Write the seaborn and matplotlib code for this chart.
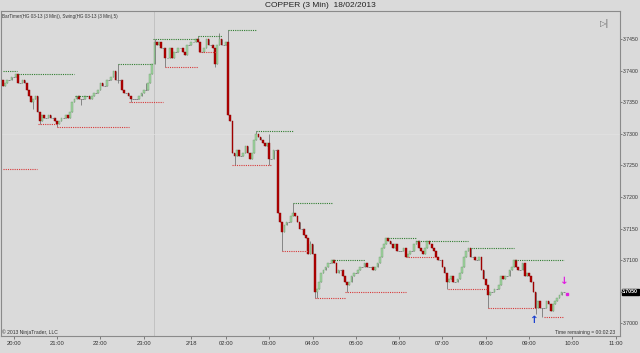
import pandas as pd
import seaborn as sns
import matplotlib.pyplot as plt

# 3-minute copper bars, closes (open = previous close)
first_open = 3.7385
closes = [
    3.7375, 3.7380, 3.7385, 3.7385, 3.7390, 3.7390, 3.7395, 3.7380, 3.7380, 3.7385,
    3.7380, 3.7370, 3.7360, 3.7350, 3.7355, 3.7360, 3.7335, 3.7320, 3.7330, 3.7325,
    3.7325, 3.7330, 3.7325, 3.7325, 3.7320, 3.7315, 3.7320, 3.7325, 3.7325, 3.7330,
    3.7325, 3.7335, 3.7350, 3.7355, 3.7360, 3.7355, 3.7355, 3.7355, 3.7360, 3.7360,
    3.7355, 3.7360, 3.7365, 3.7365, 3.7370, 3.7380, 3.7375, 3.7375, 3.7385, 3.7385,
    3.7390, 3.7400, 3.7385, 3.7385, 3.7385, 3.7370, 3.7365, 3.7365, 3.7360, 3.7355,
    3.7355, 3.7355, 3.7355, 3.7360, 3.7365, 3.7370, 3.7370, 3.7380, 3.7395, 3.7410,
    3.7445, 3.7440, 3.7445, 3.7435, 3.7435, 3.7420, 3.7420, 3.7435, 3.7420, 3.7430,
    3.7430, 3.7435, 3.7435, 3.7430, 3.7425, 3.7440, 3.7440, 3.7445, 3.7445, 3.7450,
    3.7445, 3.7430, 3.7430, 3.7435, 3.7450, 3.7440, 3.7440, 3.7435, 3.7410, 3.7440,
    3.7450, 3.7440, 3.7440, 3.7445, 3.7330, 3.7320, 3.7270, 3.7265, 3.7275, 3.7265,
    3.7265, 3.7270, 3.7280, 3.7270, 3.7260, 3.7270, 3.7290, 3.7300, 3.7295, 3.7290,
    3.7285, 3.7280, 3.7285, 3.7260, 3.7260, 3.7275, 3.7275, 3.7175, 3.7160, 3.7145,
    3.7155, 3.7160, 3.7160, 3.7170, 3.7175, 3.7170, 3.7160, 3.7150, 3.7150, 3.7140,
    3.7135, 3.7110, 3.7125, 3.7110, 3.7050, 3.7055, 3.7065, 3.7080, 3.7085, 3.7090,
    3.7095, 3.7095, 3.7100, 3.7095, 3.7080, 3.7085, 3.7085, 3.7075, 3.7065, 3.7060,
    3.7065, 3.7075, 3.7080, 3.7080, 3.7085, 3.7090, 3.7090, 3.7095, 3.7090, 3.7090,
    3.7090, 3.7085, 3.7090, 3.7095, 3.7105, 3.7120, 3.7125, 3.7135, 3.7130, 3.7125,
    3.7120, 3.7125, 3.7115, 3.7115, 3.7115, 3.7120, 3.7105, 3.7110, 3.7115, 3.7115,
    3.7125, 3.7130, 3.7120, 3.7115, 3.7110, 3.7120, 3.7130, 3.7125, 3.7120, 3.7115,
    3.7105, 3.7100, 3.7100, 3.7090, 3.7080, 3.7065, 3.7070, 3.7075, 3.7065, 3.7065,
    3.7070, 3.7080, 3.7090, 3.7105, 3.7115, 3.7120, 3.7105, 3.7105, 3.7100, 3.7100,
    3.7105, 3.7085, 3.7070, 3.7060, 3.7045, 3.7050, 3.7050, 3.7055, 3.7055, 3.7060,
    3.7075, 3.7070, 3.7075, 3.7075, 3.7085, 3.7090, 3.7100, 3.7090, 3.7085, 3.7085,
    3.7095, 3.7075, 3.7080, 3.7075, 3.7065, 3.7050, 3.7025, 3.7035, 3.7025, 3.7025,
    3.7025, 3.7035, 3.7030, 3.7020, 3.7030, 3.7035, 3.7040, 3.7045, 3.7050, 3.7050,
]

# wicks that reach past the body
wick_highs = {7: 3.7395, 34: 3.7360, 53: 3.7410, 66: 3.7380, 70: 3.7450, 90: 3.7455,
              100: 3.7460, 104: 3.7465, 117: 3.7305, 123: 3.7300, 134: 3.7190,
              142: 3.7130, 152: 3.7100, 178: 3.7135, 191: 3.7130, 196: 3.7130,
              215: 3.7120, 236: 3.7100}
wick_lows = {14: 3.7340, 17: 3.7315, 25: 3.7310, 36: 3.7345, 53: 3.7380, 59: 3.7350,
             75: 3.7405, 91: 3.7430, 98: 3.7405, 107: 3.7250, 123: 3.7250, 129: 3.7115,
             141: 3.7110, 144: 3.7040, 145: 3.7040, 159: 3.7050, 186: 3.7105,
             205: 3.7055, 224: 3.7025, 246: 3.7015, 249: 3.7010}

# Swing(5) levels: price, first bar, last bar
swing_hi_level = [3.7400, 3.7395, 3.7360, 3.7410, 3.7450, 3.7455, 3.7465,
                  3.7305, 3.7190, 3.7100, 3.7135, 3.7130, 3.7120, 3.7100]
swing_hi_start = [0, 7, 33.5, 53, 69.5, 90, 104, 117, 134, 152, 178, 191, 216, 236.5]
swing_hi_end = [6.5, 33, 39.5, 69, 90, 101, 117, 134, 152, 167, 191, 215, 236, 259]

swing_lo_level = [3.7245, 3.7315, 3.7310, 3.7350, 3.7405, 3.7430, 3.7250,
                  3.7115, 3.7040, 3.7050, 3.7105, 3.7055, 3.7025, 3.7010]
swing_lo_start = [0, 16, 25, 58, 75, 90.5, 106, 129, 144, 158, 186, 205.5, 224, 250]
swing_lo_end = [15.7, 25, 58, 74, 90, 98.5, 124, 141, 158, 186, 200, 223.5, 246, 259]

time_ticks = [5, 25, 45, 65, 87, 103, 123, 143, 163, 183, 203, 223, 243, 263, 283]
time_labels = ["20:00", "21:00", "22:00", "23:00", "2/18", "02:00", "03:00", "04:00",
               "05:00", "06:00", "07:00", "08:00", "09:00", "10:00", "11:00"]
price_ticks = [3.7000, 3.7050, 3.7100, 3.7150, 3.7200, 3.7250, 3.7300,
               3.7350, 3.7400, 3.7450]

sns.set_theme(style="ticks")
plt.rcParams["font.family"] = ["Liberation Sans", "DejaVu Sans"]

bg = "#dadada"
df = pd.DataFrame({"close": closes})
df["open"] = [first_open] + closes[:-1]
df["high"] = df[["open", "close"]].max(axis=1)
df["low"] = df[["open", "close"]].min(axis=1)
for i, v in wick_highs.items():
    df.loc[i, "high"] = max(df.loc[i, "high"], v)
for i, v in wick_lows.items():
    df.loc[i, "low"] = min(df.loc[i, "low"], v)

fig = plt.figure(figsize=(6.4, 3.53), dpi=100, facecolor=bg)
ax = fig.add_axes([1 / 640, 17 / 353, 619 / 640, 325 / 353], facecolor=bg)

ax.axvline(69.7, color="#c2c2c2", lw=0.7, zorder=0)
ax.axhline(3.7300, color="#e2e2e2", lw=0.5, zorder=0)

ax.vlines(df.index, df["low"], df["high"], color="#777777", lw=0.6, zorder=1)
up = df[df["close"] > df["open"]]
down = df[df["close"] < df["open"]]
flat = df[df["close"] == df["open"]]
ax.bar(up.index, up["close"] - up["open"], bottom=up["open"], width=0.8,
       color="#9fd49f", edgecolor="#6f9f6f", linewidth=0.3, zorder=2)
ax.bar(down.index, down["open"] - down["close"], bottom=down["close"], width=0.8,
       color="#b00000", edgecolor="#8a0000", linewidth=0.3, zorder=2)
ax.hlines(flat["close"], flat.index - 0.45, flat.index + 0.45, color="#777777",
          lw=0.6, zorder=2)

ax.hlines(swing_hi_level, swing_hi_start, swing_hi_end, colors="#2f7d2f",
          linestyles=(0, (1, 1)), lw=0.8, zorder=3)
ax.hlines(swing_lo_level, swing_lo_start, swing_lo_end, colors="#d83a3a",
          linestyles=(0, (1, 1)), lw=0.8, zorder=3)

# signal arrows on the last bars
ax.text(245.5, df.loc[246, "low"] - 0.0002, "\u2191", color="#1a3fd0", fontsize=7.5,
        fontweight="bold", ha="center", va="top", zorder=4, family=["DejaVu Sans"])
ax.text(259.5, df.loc[259, "high"] + 0.0009, "\u2193", color="#e020e0", fontsize=7.5,
        fontweight="bold", ha="center", va="bottom", zorder=4, family=["DejaVu Sans"])
ax.plot([260.5], [df.loc[259, "high"] - 0.0003], marker="s", ms=1.6,
        color="#e020e0", zorder=4)

ax.set_xlim(-0.9, 285)
ax.set_ylim(3.69801, 3.74943)
ax.set_xticks(time_ticks)
ax.set_xticklabels(time_labels)
ax.set_yticks(price_ticks)
ax.set_yticklabels([f"{p:.4f}" for p in price_ticks])
ax.yaxis.tick_right()
ax.tick_params(axis="x", labelsize=4.2, colors="#555555", length=2, width=0.5,
               pad=1.5, labelcolor="#333333")
ax.tick_params(axis="y", labelsize=3.7, colors="#555555", length=1.5, width=0.5,
               pad=0.6, labelcolor="#333333")
for s in ax.spines.values():
    s.set_color("#8a8a8a")
    s.set_linewidth(0.8)

last = closes[-1]
ax.annotate(f"{last:.4f}", xy=(1.0, last), xycoords=("axes fraction", "data"),
            xytext=(1.6, 0), textcoords="offset points", fontsize=3.7, color="white",
            fontweight="bold", va="center", ha="left",
            bbox=dict(boxstyle="square,pad=0.12", fc="black", ec="black"))

fig.text(0.5, 1 - 5.5 / 353, "COPPER (3 Min)  18/02/2013", ha="center", va="center",
         fontsize=6, color="#222222")
ax.text(0.002, 0.992, "BarTimer(HG 03-13 (3 Min)), Swing(HG 03-13 (3 Min),5)",
        transform=ax.transAxes, fontsize=3.3, color="#333333", va="top", ha="left")
ax.text(0.975, 0.975, "\u25b7|", transform=ax.transAxes, fontsize=6,
        color="#666666", va="top", ha="center", family=["DejaVu Sans"])
ax.text(0.002, 0.004, "\u00a9 2013 NinjaTrader, LLC", transform=ax.transAxes,
        fontsize=3.6, color="#333333", va="bottom", ha="left")
ax.text(0.992, 0.012, "Time remaining = 00:02:23", transform=ax.transAxes,
        fontsize=3.6, color="#333333", va="center", ha="right")

fig.savefig("out.png", dpi=100, facecolor=bg)
